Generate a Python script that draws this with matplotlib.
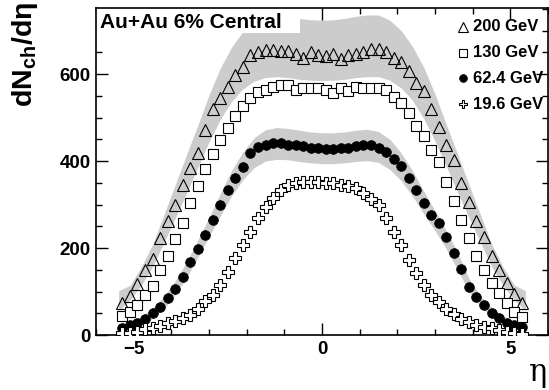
import matplotlib
matplotlib.use("Agg")
import matplotlib.pyplot as plt
from matplotlib.patches import Rectangle
from matplotlib.ticker import MultipleLocator

plt.rcParams['font.family'] = ['Liberation Sans', 'DejaVu Sans']
plt.rcParams['font.weight'] = 'bold'
plt.rcParams['mathtext.fontset'] = 'custom'
plt.rcParams['mathtext.rm'] = 'Liberation Sans:bold'
plt.rcParams['mathtext.default'] = 'rm'

# eta bin centres
eta = [-5.3, -5.1, -4.9, -4.7, -4.5, -4.3, -4.1, -3.9, -3.7, -3.5, -3.3, -3.1, -2.9, -2.7,
       -2.5, -2.3, -2.1, -1.9, -1.7, -1.5, -1.3, -1.1, -0.9, -0.7, -0.5, -0.3, -0.1,
       0.1, 0.3, 0.5, 0.7, 0.9, 1.1, 1.3, 1.5, 1.7, 1.9, 2.1, 2.3, 2.5, 2.7, 2.9,
       3.1, 3.3, 3.5, 3.7, 3.9, 4.1, 4.3, 4.5, 4.7, 4.9, 5.1, 5.3]

dn_200 = [73, 90, 117, 149, 174, 222, 263, 299, 345, 383, 419, 471, 519, 546,
          571, 599, 617, 644, 651, 655, 655, 653, 653, 647, 636, 651, 644,
          642, 647, 634, 644, 646, 651, 657, 657, 651, 636, 628, 607, 579, 562, 520,
          479, 437, 402, 350, 305, 262, 226, 182, 149, 119, 94, 73]
dn_130 = [44, 54, 69, 92, 113, 149, 182, 221, 257, 303, 343, 381, 416, 448,
          475, 503, 527, 544, 559, 563, 571, 575, 575, 563, 567, 567, 569,
          563, 556, 567, 560, 571, 569, 569, 567, 563, 548, 533, 511, 480, 457, 425,
          398, 351, 309, 264, 222, 182, 149, 119, 96, 73, 54, 42]
dn_62 = [17, 22, 28, 37, 50, 65, 84, 106, 133, 167, 197, 230, 265, 300,
         333, 362, 386, 418, 433, 438, 441, 441, 438, 437, 434, 431, 429,
         427, 427, 429, 431, 434, 437, 436, 431, 421, 405, 388, 360, 334, 304, 276,
         258, 226, 188, 151, 111, 88, 69, 50, 38, 28, 23, 18]
dn_19 = [4, 5, 8, 13, 17, 21, 27, 32, 38, 46, 59, 78, 92, 115,
         146, 176, 207, 237, 268, 295, 315, 333, 345, 349, 352, 352, 352,
         350, 349, 345, 343, 337, 326, 312, 298, 270, 237, 207, 172, 142, 115, 92,
         77, 60, 48, 37, 30, 24, 19, 15, 11, 8, 5, 3]

# systematic error bands (200 GeV and 62.4 GeV)
eta_band = [-5.4, -5.1, -4.8, -4.5, -4.2, -3.9, -3.6, -3.3, -3.0, -2.7, -2.4, -2.1,
            -1.8, -1.5, -1.2, -0.9, -0.6, -0.3, 0.0, 0.3, 0.6, 0.9, 1.2, 1.5, 1.8,
            2.1, 2.4, 2.7, 3.0, 3.3, 3.6, 3.9, 4.2, 4.5, 4.8, 5.1, 5.4]
band200_lo = [56, 80, 114, 157, 212, 268, 326, 385, 444, 496, 537, 566,
              584, 592, 594, 592, 588, 586, 585, 586, 588, 592, 594, 594, 586,
              568, 540, 498, 446, 388, 328, 270, 214, 158, 115, 81, 56]
band200_hi = [102, 114, 156, 208, 276, 345, 414, 482, 552, 614, 662, 698,
              722, 734, 736, 733, 728, 725, 724, 725, 728, 733, 736, 736, 724,
              700, 664, 616, 554, 484, 416, 346, 278, 210, 157, 115, 102]
band62_lo = [8, 13, 22, 38, 60, 92, 132, 178, 226, 274, 320, 357,
             385, 400, 404, 403, 399, 396, 394, 394, 396, 399, 401, 397, 381,
             355, 320, 279, 240, 198, 150, 100, 66, 42, 24, 14, 9]
band62_hi = [24, 31, 42, 62, 88, 124, 168, 218, 270, 326, 378, 421,
             454, 472, 477, 475, 471, 467, 465, 465, 467, 471, 473, 468, 450,
             419, 378, 331, 286, 240, 190, 130, 90, 64, 43, 32, 25]

labels = ['200 GeV', '130 GeV', '62.4 GeV', '19.6 GeV']
styles = [dict(marker='^', ms=8.5, mfc='none', mew=0.8),
          dict(marker='s', ms=7.5, mfc='white', mew=0.8),
          dict(marker='o', ms=7, mfc='black', mew=0.5),
          dict(marker='P', ms=8, mfc='white', mew=0.8)]
series = [dn_200, dn_130, dn_62, dn_19]

fig = plt.figure(figsize=(5.49, 3.9), dpi=100)
ax = fig.add_axes([96 / 549, 55 / 390, 452 / 549, 327 / 390])

band_col = '#cccccc'
ax.fill_between(eta_band, band200_lo, band200_hi, color=band_col, lw=0, zorder=1)
ax.fill_between(eta_band, band62_lo, band62_hi, color=band_col, lw=0, zorder=1)

# white box behind the title text
ax.add_patch(Rectangle((0, 1 - 25 / 327), 204 / 452, 25 / 327, transform=ax.transAxes,
                       fc='white', ec='none', zorder=2))

for vals, st in zip(series, styles):
    ax.plot(eta, vals, ls='none', mec='black', zorder=3, **st)

ax.set_xlim(-6, 6)
ax.set_ylim(0, 752)
ax.xaxis.set_major_locator(MultipleLocator(5))
ax.xaxis.set_minor_locator(MultipleLocator(1))
ax.yaxis.set_major_locator(MultipleLocator(200))
ax.yaxis.set_minor_locator(MultipleLocator(50))
ax.tick_params(which='both', direction='in', top=True, right=True, width=1.0)
ax.tick_params(which='major', length=8.5, labelsize=13.5, pad=4)
ax.tick_params(which='minor', length=4.5)
for lab in ax.get_xticklabels() + ax.get_yticklabels():
    lab.set_fontweight('bold')
for s in ax.spines.values():
    s.set_linewidth(1.2)

ax.text(0.009, 0.985, 'Au+Au 6% Central', transform=ax.transAxes, ha='left', va='top',
        fontsize=15, fontweight='bold', zorder=4)

# legend, drawn by hand
leg_y = [0.943, 0.863, 0.785, 0.705]
for yy, lab, st in zip(leg_y, labels, styles):
    st2 = dict(st)
    st2['ms'] = st['ms'] * 0.8
    ax.plot([0.812], [yy], transform=ax.transAxes, ls='none', mec='black',
            clip_on=False, zorder=4, **st2)
    ax.text(0.834, yy, lab, transform=ax.transAxes, ha='left', va='center',
            fontsize=12, fontweight='bold', zorder=4)

fig.text(0.045, 0.995, r'dN$_{ch}$/dη', rotation=90, ha='center', va='top',
         fontsize=20.5, fontweight='bold')
fig.text(0.98, 0.005, 'η', ha='center', va='bottom', fontsize=22,
         family='DejaVu Serif', fontweight='normal')

fig.savefig('out.png', dpi=100)
